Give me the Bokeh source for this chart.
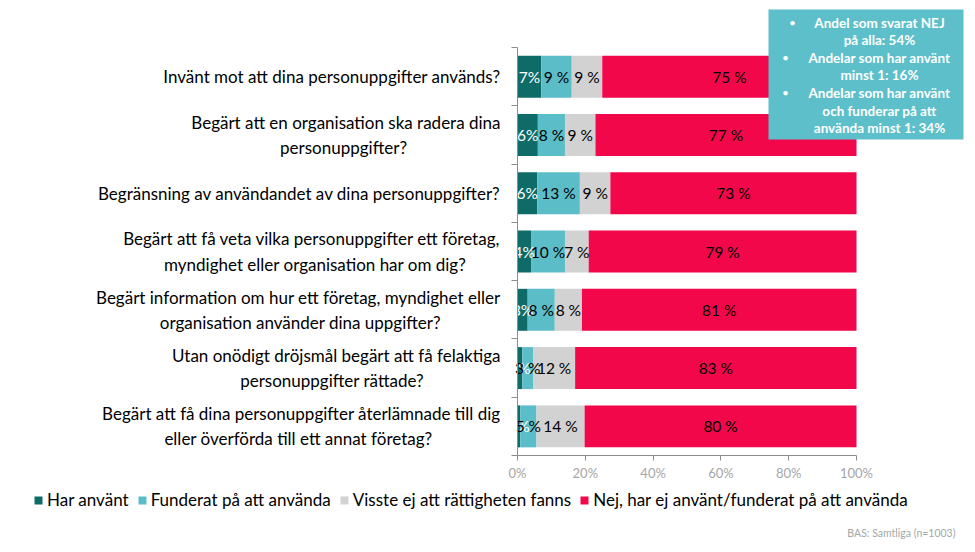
from bokeh.plotting import figure
from bokeh.models import (Range1d, FixedTicker, Legend, LegendItem, Label,
                          BoxAnnotation, ColumnDataSource)
from bokeh.embed import file_html
from bokeh.resources import INLINE
from bokeh.core.properties import value

# ---------------- data ----------------
questions = [
    "Invänt mot att dina personuppgifter används?",
    "Begärt att en organisation ska radera dina\npersonuppgifter?",
    "Begränsning av användandet av dina personuppgifter?",
    "Begärt att få veta vilka personuppgifter ett företag,\nmyndighet eller organisation har om dig?",
    "Begärt information om hur ett företag, myndighet eller\norganisation använder dina uppgifter?",
    "Utan onödigt dröjsmål begärt att få felaktiga\npersonuppgifter rättade?",
    "Begärt att få dina personuppgifter återlämnade till dig\neller överförda till ett annat företag?",
]
har_anvant = [7, 6, 5.8, 4, 3, 1.4, 0.8]
funderat = [9, 8, 12.6, 10, 8, 3.2, 4.8]
visste_ej = [9, 9, 9.0, 7, 8, 12.4, 14.2]
nej = [75, 77, 72.6, 79, 81, 83.0, 80.2]
series_names = ["Har använt", "Funderat på att använda",
                "Visste ej att rättigheten fanns",
                "Nej, har ej använt/funderat på att använda"]
x_ticks = [0, 20, 40, 60, 80, 100]
x_tick_labels = ["0%", "20%", "40%", "60%", "80%", "100%"]
box_lines = [
    ("•", "Andel som svarat NEJ"),
    ("", "på alla: 54%"),
    ("•", "Andelar som har använt"),
    ("", "minst 1: 16%"),
    ("•", "Andelar som har använt"),
    ("", "och funderar på att"),
    ("", "använda minst 1: 34%"),
]
note = "BAS: Samtliga (n=1003)"

# ---------------- style ----------------
colors = ["#0F6B67", "#5BBDC8", "#D2D2D2", "#F2074B"]
label_colors = ["white", "black", "black", "black"]
FONT = "Lato"
W, H = 975, 552
X0, X100 = 517, 856        # pixel of 0 % and 100 %
Y_TOP = 47                 # pixel of the top of the category axis
ROW = 58.29                # row pitch (px)
# en-space padding after the 2nd line so the two lines look centred
line2_pad = [0, 11, 0, 4, 7, 9, 8]
EN = "\u2002"

n = len(questions)
ypos = list(range(n))

def padded(q, k):
    if "\n" not in q or line2_pad[k] == 0:
        return q
    return q + EN * line2_pad[k]

# the frame covers the whole canvas; axes are pinned with fixed_location
ppu = (X100 - X0) / 100.0
x_start, x_end = -X0 / ppu, (W - X0) / ppu
y_top = -0.5 - Y_TOP / ROW
y_bot = -0.5 + (H - Y_TOP) / ROW

p = figure(width=W, height=H, x_range=Range1d(x_start, x_end),
           y_range=Range1d(y_bot, y_top),
           min_border=0, min_border_left=0, min_border_right=0,
           min_border_top=0, min_border_bottom=0,
           output_backend="svg", toolbar_location=None)
p.title.visible = False
p.outline_line_color = None
p.xgrid.visible = False
p.ygrid.visible = False

cols = ["har", "fund", "visste", "nej"]
src = ColumnDataSource(dict(y=ypos, har=har_anvant, fund=funderat,
                            visste=visste_ej, nej=nej))
rends = p.hbar_stack(cols, y="y", height=0.72, color=colors,
                     line_color=None, source=src)

# value labels centred in segments
series = [har_anvant, funderat, visste_ej, nej]
left = [0] * n
for k, vals in enumerate(series):
    xs = [left[i] + vals[i] / 2 for i in range(n)]
    fmt = "{}%" if k == 0 else "{} %"
    txt = [fmt.format(int(round(v))) for v in vals]
    p.text(x=xs, y=ypos, text=txt, text_align="center", text_baseline="middle",
           text_color=label_colors[k], text_font=value(FONT),
           text_font_size="15.5px")
    left = [left[i] + vals[i] for i in range(n)]

# y axis (pinned at x = 0)
p.yaxis.fixed_location = 0
p.yaxis.ticker = FixedTicker(ticks=ypos, minor_ticks=[i - 0.5 for i in range(n + 1)])
p.yaxis.major_label_overrides = {i: padded(q, i) for i, q in enumerate(questions)}
p.yaxis.bounds = (-0.5, n - 0.5)
p.yaxis.major_tick_in = 0
p.yaxis.major_tick_out = 0
p.yaxis.minor_tick_in = 0
p.yaxis.minor_tick_out = 6
p.yaxis.minor_tick_line_color = "#8C8C8C"
p.yaxis.axis_line_color = "#8C8C8C"
p.yaxis.major_label_standoff = 11
p.yaxis.major_label_text_font = FONT
p.yaxis.major_label_text_font_size = "17px"
p.yaxis.major_label_text_color = "black"
p.yaxis.major_label_text_line_height = 1.2

# x axis (pinned at the bottom of the category band)
p.xaxis.fixed_location = n - 0.5
p.xaxis.ticker = FixedTicker(ticks=x_ticks)
p.xaxis.major_label_overrides = {t: l for t, l in zip(x_ticks, x_tick_labels)}
p.xaxis.bounds = (0, 100)
p.xaxis.axis_line_color = "#8C8C8C"
p.xaxis.major_tick_line_color = "#8C8C8C"
p.xaxis.major_tick_in = 0
p.xaxis.major_tick_out = 5
p.xaxis.minor_tick_line_color = None
p.xaxis.major_label_text_font = FONT
p.xaxis.major_label_text_font_size = "13px"
p.xaxis.major_label_text_color = "#A6A6A6"
p.xaxis.major_label_standoff = 4

# legend
legend = Legend(items=[LegendItem(label=nm, renderers=[r]) for nm, r in zip(series_names, rends)],
                orientation="horizontal", location=(33, H - 510),
                glyph_width=10, glyph_height=10, label_standoff=4, spacing=8,
                padding=0, margin=0, border_line_color=None,
                background_fill_alpha=0, label_height=20,
                label_text_font=FONT, label_text_font_size="17px",
                label_text_color="black")
p.add_layout(legend)

# text box (screen units: x from left, y from bottom)
box = BoxAnnotation(left=768, right=963, top=H - 9, bottom=H - 139,
                    left_units="screen", right_units="screen",
                    top_units="screen", bottom_units="screen",
                    fill_color="#5CBFCA", fill_alpha=1, line_color=None,
                    level="overlay")
p.add_layout(box)
y0, dy = 22, 17.6
for j, (bullet, line) in enumerate(box_lines):
    yy = H - (y0 + j * dy)
    p.add_layout(Label(x=879, y=yy, x_units="screen", y_units="screen",
                       text=line, text_align="center", text_baseline="middle",
                       text_color="white", text_font=FONT, text_font_style="bold",
                       text_font_size="13.5px", level="overlay"))
    if bullet:
        bx = 792 if j == 0 else 785
        p.add_layout(Label(x=bx, y=yy, x_units="screen", y_units="screen",
                           text=bullet, text_align="center", text_baseline="middle",
                           text_color="white", text_font=FONT,
                           text_font_size="12px", level="overlay"))

# footnote
p.add_layout(Label(x=955, y=H - 532, x_units="screen", y_units="screen",
                   text=note, text_align="right", text_baseline="middle",
                   text_color="#9FA8A8", text_font=FONT, text_font_size="10.5px"))

open("out.html", "w").write(file_html(p, INLINE))
